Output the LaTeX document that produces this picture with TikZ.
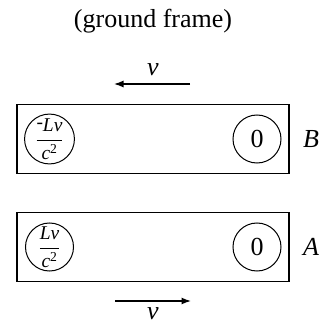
\documentclass[tikz,border=0pt]{standalone}
\usepackage{amsmath}
\usepackage{fontspec}
\setmainfont{Liberation Serif}
\usetikzlibrary{arrows.meta,positioning}

\tikzset{
  car/.style={draw,line width=1.5bp,minimum width=272bp,minimum height=69bp,inner sep=0pt},
  clock/.style={draw,circle,line width=1bp,minimum size=48bp,inner sep=0pt,
    font=\fontsize{19.5bp}{20bp}\selectfont},
  vel/.style={-{Latex[length=9.5bp,width=7bp]},line width=1.4bp},
}

\begin{document}
\begin{tikzpicture}[x=1bp,y=1bp,font=\fontsize{26bp}{30bp}\selectfont]
  \useasboundingbox (0,0) rectangle (327,326);
  \node (title) at (153,305) {(ground frame)};
  % train B, moving left
  \node[car] (carB) at (153,187) {};
  \node[clock] (clockBl) at (49.5,187) {$\dfrac{\raisebox{0.35ex}{-}\textit{Lv}}{\textit{c}^{\text{2}}}$};
  \node[clock,font=\fontsize{26bp}{30bp}\selectfont] (clockBr) at (257,187) {0};
  \node (labB) at (311,187) {\textit{B}};
  \coordinate (vBs) at (190,242);
  \coordinate (vBe) at (114,242);
  \draw[vel] (vBs) -- (vBe);
  \node[anchor=base] (velB) at (153,251) {\textit{v}};
  % train A, moving right
  \node[car] (carA) at (153,79) {};
  \node[clock] (clockAl) at (49.5,79) {$\dfrac{\textit{Lv}}{\textit{c}^{\text{2}}}$};
  \node[clock,font=\fontsize{26bp}{30bp}\selectfont] (clockAr) at (257,79) {0};
  \node (labA) at (311,79) {\textit{A}};
  \coordinate (vAs) at (115,25);
  \coordinate (vAe) at (191,25);
  \draw[vel] (vAs) -- (vAe);
  \node[anchor=base,inner sep=0pt] (velA) at (153,7) {\textit{v}};
\end{tikzpicture}
\end{document}
